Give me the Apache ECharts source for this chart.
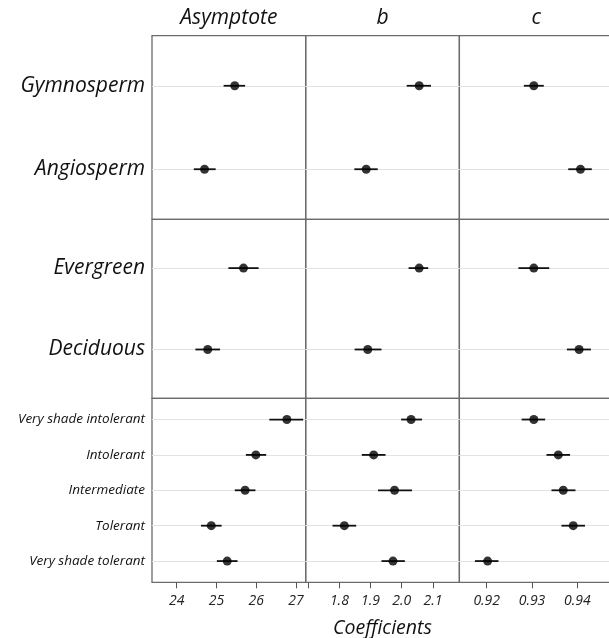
<!DOCTYPE html>
<html>
<head>
<meta charset="utf-8">
<script src="https://cdn.jsdelivr.net/npm/echarts@6/dist/echarts.min.js"></script>
<style>
  html, body { margin: 0; padding: 0; background: #fff; }
  #chart { width: 609px; height: 638px; }
</style>
</head>
<body>
<div id="chart"></div>
<script>
// Coefficient columns
const coefficients = ['Asymptote', 'b', 'c'];

// Row groups
const woodTypes = ['Gymnosperm', 'Angiosperm'];
const leafHabits = ['Evergreen', 'Deciduous'];
const shadeClasses = ['Very shade intolerant', 'Intolerant', 'Intermediate', 'Tolerant', 'Very shade tolerant'];

// Estimates as [estimate, lower, upper]
const woodAsymptote = [[25.46, 25.18, 25.72], [24.70, 24.43, 24.98]];
const woodB = [[2.056, 2.016, 2.094], [1.886, 1.848, 1.923]];
const woodC = [[0.9304, 0.9282, 0.9326], [0.9407, 0.9380, 0.9432]];

const leafAsymptote = [[25.68, 25.30, 26.06], [24.78, 24.47, 25.09]];
const leafB = [[2.056, 2.022, 2.085], [1.891, 1.849, 1.935]];
const leafC = [[0.9304, 0.9270, 0.9338], [0.9404, 0.9377, 0.9430]];

const shadeAsymptote = [[26.77, 26.33, 27.18], [25.99, 25.74, 26.25], [25.72, 25.46, 25.98], [24.87, 24.61, 25.13], [25.27, 25.01, 25.53]];
const shadeB = [[2.030, 1.998, 2.065], [1.910, 1.872, 1.948], [1.977, 1.924, 2.033], [1.816, 1.778, 1.854], [1.972, 1.935, 2.010]];
const shadeC = [[0.9304, 0.9277, 0.9329], [0.9358, 0.9332, 0.9384], [0.9369, 0.9343, 0.9396], [0.9391, 0.9365, 0.9417], [0.9202, 0.9174, 0.9226]];

// Axis ticks and labels for each coefficient column
const asymptoteTicks = [24, 25, 26, 27];
const bTicks = [1.7, 1.8, 1.9, 2.0, 2.1];
const bLabels = [1.8, 1.9, 2.0, 2.1];
const cTicks = [0.92, 0.93, 0.94];

const rows = [
  { names: woodTypes, values: [woodAsymptote, woodB, woodC], fontSize: 21 },
  { names: leafHabits, values: [leafAsymptote, leafB, leafC], fontSize: 21 },
  { names: shadeClasses, values: [shadeAsymptote, shadeB, shadeC], fontSize: 13.5 }
];

const columnAxes = [
  { min: 23.379, max: 27.244, ticks: asymptoteTicks, labels: asymptoteTicks, fmt: v => String(Math.round(v)) },
  { min: 1.692, max: 2.185, ticks: bTicks, labels: bLabels, fmt: v => Number(v).toFixed(1) },
  { min: 0.91395, max: 0.94788, ticks: cTicks, labels: cTicks, fmt: v => Number(v).toFixed(2) }
];

// Panel layout (px)
const colLeft = [152, 305.7, 459.3];
const colWidth = 153.7;
const rowTop = [35.7, 219.3, 398.3];
const rowHeight = [183.6, 179, 184];

const FONT = 'Open Sans';
const grids = [], xAxes = [], yAxes = [], series = [];

rows.forEach((row, r) => {
  const n = row.names.length;
  const idx = row.names.map((_, i) => i + 1);
  coefficients.forEach((coef, c) => {
    const g = grids.length;
    const ax = columnAxes[c];
    const isBottom = r === rows.length - 1;
    grids.push({
      left: colLeft[c], top: rowTop[r], width: colWidth, height: rowHeight[r],
      outerBoundsMode: 'none', containLabel: false,
      show: true, borderColor: '#6b6b6b', borderWidth: 1.3, backgroundColor: 'transparent'
    });
    xAxes.push({
      type: 'value', gridIndex: g, min: ax.min, max: ax.max,
      axisLine: { show: false },
      splitLine: { show: false },
      axisTick: { show: isBottom, customValues: ax.ticks, length: 6, lineStyle: { color: '#555', width: 1 } },
      axisLabel: {
        show: isBottom, customValues: ax.labels, formatter: ax.fmt, margin: 12,
        fontFamily: FONT, fontStyle: 'italic', fontSize: 14, color: '#222'
      }
    });
    yAxes.push({
      type: 'value', gridIndex: g, min: 0.4, max: n + 0.6, inverse: true,
      axisLine: { show: false },
      axisTick: { show: false, customValues: idx },
      splitLine: { show: true, lineStyle: { color: '#e2e2e2', width: 1 } },
      axisLabel: {
        show: c === 0, customValues: idx, formatter: v => row.names[Math.round(v) - 1] || '',
        margin: 7, fontFamily: FONT, fontStyle: 'italic', fontSize: row.fontSize, color: '#111'
      }
    });
    const vals = row.values[c];
    // error bars
    series.push({
      type: 'custom', xAxisIndex: g, yAxisIndex: g, z: 2,
      data: vals.map((v, i) => [v[0], v[1], v[2], i + 1]),
      encode: { x: [0, 1, 2], y: 3 },
      renderItem: (params, api) => {
        const y = api.value(3);
        const p1 = api.coord([api.value(1), y]);
        const p2 = api.coord([api.value(2), y]);
        return {
          type: 'line',
          shape: { x1: p1[0], y1: p1[1], x2: p2[0], y2: p2[1] },
          style: { stroke: '#111', lineWidth: 1.8 }
        };
      },
      silent: true
    });
    // point estimates
    series.push({
      type: 'scatter', xAxisIndex: g, yAxisIndex: g, z: 3,
      data: vals.map((v, i) => [v[0], i + 1]),
      symbol: 'circle', symbolSize: 9,
      itemStyle: { color: '#000' },
      silent: true
    });
  });
});

const graphics = coefficients.map((name, c) => ({
  type: 'text',
  x: colLeft[c] + colWidth / 2, y: 18,
  style: {
    text: name, fill: '#111', font: 'italic 21px "' + FONT + '"',
    textAlign: 'center', textVerticalAlign: 'middle'
  }
}));
graphics.push({
  type: 'text',
  x: (colLeft[0] + colLeft[2] + colWidth) / 2, y: 628,
  style: {
    text: 'Coefficients', fill: '#111', font: 'italic 19.5px "' + FONT + '"',
    textAlign: 'center', textVerticalAlign: 'middle'
  }
});

const chart = echarts.init(document.getElementById('chart'), null, { renderer: 'canvas' });
chart.setOption({
  animation: false,
  backgroundColor: '#fff',
  grid: grids,
  xAxis: xAxes,
  yAxis: yAxes,
  series: series,
  graphic: graphics
});
</script>
</body>
</html>
